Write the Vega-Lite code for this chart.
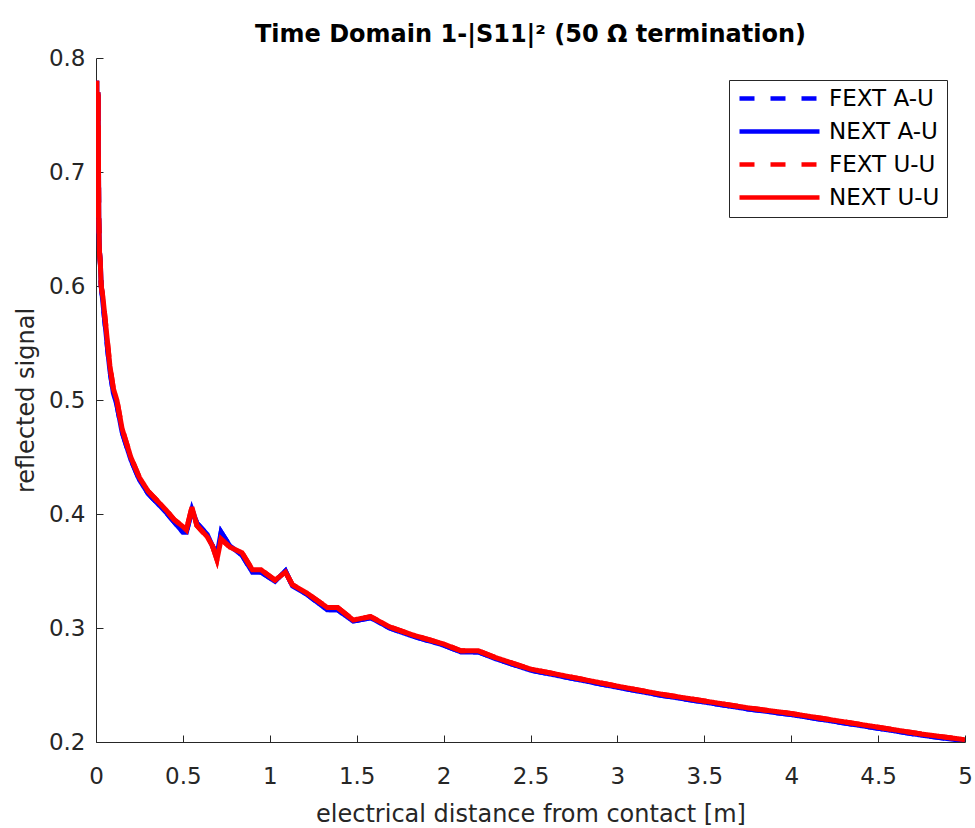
{
  "$schema": "https://vega.github.io/schema/vega-lite/v6.json",
  "width": 869,
  "height": 684,
  "autosize": {"type": "none"},
  "padding": {"left": 96, "top": 58, "right": 10, "bottom": 86},
  "background": "white",
  "title": {"text": "Time Domain 1-|S11|² (50 Ω termination)", "font": "DejaVu Sans", "fontSize": 24, "fontWeight": "bold", "color": "#000000", "anchor": "middle", "offset": 0},
  "config": {
    "view": {"stroke": null},
    "axis": {"grid": false, "domainColor": "#262626", "tickColor": "#262626", "labelColor": "#262626", "titleColor": "#262626", "labelFont": "DejaVu Sans", "titleFont": "DejaVu Sans", "labelFontSize": 23, "titleFontSize": 24, "titleFontWeight": "normal", "tickSize": -7, "domainWidth": 1, "labelFlush": false},
    "legend": {"orient": "none", "legendX": 633, "legendY": 22, "padding": 7, "labelFont": "DejaVu Sans", "labelFontSize": 23, "labelColor": "#000000", "symbolType": "M-1,0H9", "symbolSize": 256, "symbolStrokeWidth": 4.5, "labelOffset": 70, "rowPadding": 9, "strokeColor": "#262626", "fillColor": "white"}
  },
  "data": {"values": [
    {"s":"FEXT A-U","x":0,"y":0.66},{"s":"FEXT A-U","x":0.004,"y":0.78},{"s":"FEXT A-U","x":0.008,"y":0.70},{"s":"FEXT A-U","x":0.012,"y":0.77},{"s":"FEXT A-U","x":0.016,"y":0.66},{"s":"FEXT A-U","x":0.02,"y":0.63},{"s":"FEXT A-U","x":0.025,"y":0.62},{"s":"FEXT A-U","x":0.03,"y":0.60},{"s":"FEXT A-U","x":0.04,"y":0.585},{"s":"FEXT A-U","x":0.05,"y":0.57},{"s":"FEXT A-U","x":0.06,"y":0.555},{"s":"FEXT A-U","x":0.07,"y":0.54},{"s":"FEXT A-U","x":0.08,"y":0.526},{"s":"FEXT A-U","x":0.1,"y":0.506},{"s":"FEXT A-U","x":0.12,"y":0.496},{"s":"FEXT A-U","x":0.15,"y":0.472},{"s":"FEXT A-U","x":0.2,"y":0.448},{"s":"FEXT A-U","x":0.25,"y":0.43},{"s":"FEXT A-U","x":0.3,"y":0.418},{"s":"FEXT A-U","x":0.35,"y":0.41},{"s":"FEXT A-U","x":0.4,"y":0.402},{"s":"FEXT A-U","x":0.45,"y":0.393},{"s":"FEXT A-U","x":0.5,"y":0.384},{"s":"FEXT A-U","x":0.52,"y":0.384},{"s":"FEXT A-U","x":0.552,"y":0.404},{"s":"FEXT A-U","x":0.58,"y":0.392},{"s":"FEXT A-U","x":0.64,"y":0.382},{"s":"FEXT A-U","x":0.67,"y":0.372},{"s":"FEXT A-U","x":0.696,"y":0.364},{"s":"FEXT A-U","x":0.72,"y":0.384},{"s":"FEXT A-U","x":0.77,"y":0.372},{"s":"FEXT A-U","x":0.84,"y":0.364},{"s":"FEXT A-U","x":0.88,"y":0.354},{"s":"FEXT A-U","x":0.9,"y":0.349},{"s":"FEXT A-U","x":0.95,"y":0.349},{"s":"FEXT A-U","x":1.03,"y":0.341},{"s":"FEXT A-U","x":1.09,"y":0.350},{"s":"FEXT A-U","x":1.13,"y":0.337},{"s":"FEXT A-U","x":1.21,"y":0.330},{"s":"FEXT A-U","x":1.33,"y":0.316},{"s":"FEXT A-U","x":1.39,"y":0.316},{"s":"FEXT A-U","x":1.48,"y":0.306},{"s":"FEXT A-U","x":1.58,"y":0.309},{"s":"FEXT A-U","x":1.69,"y":0.300},{"s":"FEXT A-U","x":1.82,"y":0.293},{"s":"FEXT A-U","x":2.0,"y":0.285},{"s":"FEXT A-U","x":2.1,"y":0.279},{"s":"FEXT A-U","x":2.2,"y":0.279},{"s":"FEXT A-U","x":2.3,"y":0.273},{"s":"FEXT A-U","x":2.5,"y":0.263},{"s":"FEXT A-U","x":2.7,"y":0.257},{"s":"FEXT A-U","x":3.0,"y":0.248},{"s":"FEXT A-U","x":3.25,"y":0.241},{"s":"FEXT A-U","x":3.5,"y":0.235},{"s":"FEXT A-U","x":3.75,"y":0.229},{"s":"FEXT A-U","x":4.0,"y":0.224},{"s":"FEXT A-U","x":4.25,"y":0.218},{"s":"FEXT A-U","x":4.5,"y":0.212},{"s":"FEXT A-U","x":4.75,"y":0.206},{"s":"FEXT A-U","x":5.0,"y":0.201},
    {"s":"NEXT A-U","x":0,"y":0.66},{"s":"NEXT A-U","x":0.004,"y":0.78},{"s":"NEXT A-U","x":0.008,"y":0.70},{"s":"NEXT A-U","x":0.012,"y":0.77},{"s":"NEXT A-U","x":0.016,"y":0.66},{"s":"NEXT A-U","x":0.02,"y":0.63},{"s":"NEXT A-U","x":0.025,"y":0.62},{"s":"NEXT A-U","x":0.03,"y":0.60},{"s":"NEXT A-U","x":0.04,"y":0.585},{"s":"NEXT A-U","x":0.05,"y":0.57},{"s":"NEXT A-U","x":0.06,"y":0.555},{"s":"NEXT A-U","x":0.07,"y":0.54},{"s":"NEXT A-U","x":0.08,"y":0.526},{"s":"NEXT A-U","x":0.1,"y":0.506},{"s":"NEXT A-U","x":0.12,"y":0.496},{"s":"NEXT A-U","x":0.15,"y":0.472},{"s":"NEXT A-U","x":0.2,"y":0.448},{"s":"NEXT A-U","x":0.25,"y":0.43},{"s":"NEXT A-U","x":0.3,"y":0.418},{"s":"NEXT A-U","x":0.35,"y":0.41},{"s":"NEXT A-U","x":0.4,"y":0.402},{"s":"NEXT A-U","x":0.45,"y":0.393},{"s":"NEXT A-U","x":0.5,"y":0.384},{"s":"NEXT A-U","x":0.52,"y":0.384},{"s":"NEXT A-U","x":0.552,"y":0.404},{"s":"NEXT A-U","x":0.58,"y":0.392},{"s":"NEXT A-U","x":0.64,"y":0.382},{"s":"NEXT A-U","x":0.67,"y":0.372},{"s":"NEXT A-U","x":0.696,"y":0.364},{"s":"NEXT A-U","x":0.72,"y":0.384},{"s":"NEXT A-U","x":0.77,"y":0.372},{"s":"NEXT A-U","x":0.84,"y":0.364},{"s":"NEXT A-U","x":0.88,"y":0.354},{"s":"NEXT A-U","x":0.9,"y":0.349},{"s":"NEXT A-U","x":0.95,"y":0.349},{"s":"NEXT A-U","x":1.03,"y":0.341},{"s":"NEXT A-U","x":1.09,"y":0.350},{"s":"NEXT A-U","x":1.13,"y":0.337},{"s":"NEXT A-U","x":1.21,"y":0.330},{"s":"NEXT A-U","x":1.33,"y":0.316},{"s":"NEXT A-U","x":1.39,"y":0.316},{"s":"NEXT A-U","x":1.48,"y":0.306},{"s":"NEXT A-U","x":1.58,"y":0.309},{"s":"NEXT A-U","x":1.69,"y":0.300},{"s":"NEXT A-U","x":1.82,"y":0.293},{"s":"NEXT A-U","x":2.0,"y":0.285},{"s":"NEXT A-U","x":2.1,"y":0.279},{"s":"NEXT A-U","x":2.2,"y":0.279},{"s":"NEXT A-U","x":2.3,"y":0.273},{"s":"NEXT A-U","x":2.5,"y":0.263},{"s":"NEXT A-U","x":2.7,"y":0.257},{"s":"NEXT A-U","x":3.0,"y":0.248},{"s":"NEXT A-U","x":3.25,"y":0.241},{"s":"NEXT A-U","x":3.5,"y":0.235},{"s":"NEXT A-U","x":3.75,"y":0.229},{"s":"NEXT A-U","x":4.0,"y":0.224},{"s":"NEXT A-U","x":4.25,"y":0.218},{"s":"NEXT A-U","x":4.5,"y":0.212},{"s":"NEXT A-U","x":4.75,"y":0.206},{"s":"NEXT A-U","x":5.0,"y":0.201},
    {"s":"FEXT U-U","x":0,"y":0.66},{"s":"FEXT U-U","x":0.004,"y":0.78},{"s":"FEXT U-U","x":0.008,"y":0.70},{"s":"FEXT U-U","x":0.012,"y":0.77},{"s":"FEXT U-U","x":0.016,"y":0.66},{"s":"FEXT U-U","x":0.02,"y":0.63},{"s":"FEXT U-U","x":0.025,"y":0.62},{"s":"FEXT U-U","x":0.03,"y":0.60},{"s":"FEXT U-U","x":0.04,"y":0.59},{"s":"FEXT U-U","x":0.05,"y":0.575},{"s":"FEXT U-U","x":0.06,"y":0.56},{"s":"FEXT U-U","x":0.07,"y":0.545},{"s":"FEXT U-U","x":0.08,"y":0.53},{"s":"FEXT U-U","x":0.1,"y":0.51},{"s":"FEXT U-U","x":0.12,"y":0.50},{"s":"FEXT U-U","x":0.15,"y":0.475},{"s":"FEXT U-U","x":0.2,"y":0.45},{"s":"FEXT U-U","x":0.25,"y":0.432},{"s":"FEXT U-U","x":0.3,"y":0.42},{"s":"FEXT U-U","x":0.35,"y":0.412},{"s":"FEXT U-U","x":0.4,"y":0.404},{"s":"FEXT U-U","x":0.45,"y":0.395},{"s":"FEXT U-U","x":0.5,"y":0.389},{"s":"FEXT U-U","x":0.52,"y":0.386},{"s":"FEXT U-U","x":0.552,"y":0.406},{"s":"FEXT U-U","x":0.58,"y":0.39},{"s":"FEXT U-U","x":0.64,"y":0.38},{"s":"FEXT U-U","x":0.67,"y":0.372},{"s":"FEXT U-U","x":0.696,"y":0.36},{"s":"FEXT U-U","x":0.72,"y":0.378},{"s":"FEXT U-U","x":0.77,"y":0.371},{"s":"FEXT U-U","x":0.84,"y":0.366},{"s":"FEXT U-U","x":0.88,"y":0.356},{"s":"FEXT U-U","x":0.9,"y":0.351},{"s":"FEXT U-U","x":0.95,"y":0.351},{"s":"FEXT U-U","x":1.03,"y":0.342},{"s":"FEXT U-U","x":1.09,"y":0.349},{"s":"FEXT U-U","x":1.13,"y":0.338},{"s":"FEXT U-U","x":1.21,"y":0.331},{"s":"FEXT U-U","x":1.33,"y":0.318},{"s":"FEXT U-U","x":1.39,"y":0.318},{"s":"FEXT U-U","x":1.48,"y":0.307},{"s":"FEXT U-U","x":1.58,"y":0.31},{"s":"FEXT U-U","x":1.69,"y":0.301},{"s":"FEXT U-U","x":1.82,"y":0.294},{"s":"FEXT U-U","x":2.0,"y":0.286},{"s":"FEXT U-U","x":2.1,"y":0.28},{"s":"FEXT U-U","x":2.2,"y":0.28},{"s":"FEXT U-U","x":2.3,"y":0.274},{"s":"FEXT U-U","x":2.5,"y":0.264},{"s":"FEXT U-U","x":2.7,"y":0.258},{"s":"FEXT U-U","x":3.0,"y":0.249},{"s":"FEXT U-U","x":3.25,"y":0.242},{"s":"FEXT U-U","x":3.5,"y":0.236},{"s":"FEXT U-U","x":3.75,"y":0.23},{"s":"FEXT U-U","x":4.0,"y":0.225},{"s":"FEXT U-U","x":4.25,"y":0.219},{"s":"FEXT U-U","x":4.5,"y":0.213},{"s":"FEXT U-U","x":4.75,"y":0.207},{"s":"FEXT U-U","x":5.0,"y":0.202},
    {"s":"NEXT U-U","x":0,"y":0.66},{"s":"NEXT U-U","x":0.004,"y":0.78},{"s":"NEXT U-U","x":0.008,"y":0.70},{"s":"NEXT U-U","x":0.012,"y":0.77},{"s":"NEXT U-U","x":0.016,"y":0.66},{"s":"NEXT U-U","x":0.02,"y":0.63},{"s":"NEXT U-U","x":0.025,"y":0.62},{"s":"NEXT U-U","x":0.03,"y":0.60},{"s":"NEXT U-U","x":0.04,"y":0.59},{"s":"NEXT U-U","x":0.05,"y":0.575},{"s":"NEXT U-U","x":0.06,"y":0.56},{"s":"NEXT U-U","x":0.07,"y":0.545},{"s":"NEXT U-U","x":0.08,"y":0.53},{"s":"NEXT U-U","x":0.1,"y":0.51},{"s":"NEXT U-U","x":0.12,"y":0.50},{"s":"NEXT U-U","x":0.15,"y":0.475},{"s":"NEXT U-U","x":0.2,"y":0.45},{"s":"NEXT U-U","x":0.25,"y":0.432},{"s":"NEXT U-U","x":0.3,"y":0.42},{"s":"NEXT U-U","x":0.35,"y":0.412},{"s":"NEXT U-U","x":0.4,"y":0.404},{"s":"NEXT U-U","x":0.45,"y":0.395},{"s":"NEXT U-U","x":0.5,"y":0.389},{"s":"NEXT U-U","x":0.52,"y":0.386},{"s":"NEXT U-U","x":0.552,"y":0.406},{"s":"NEXT U-U","x":0.58,"y":0.39},{"s":"NEXT U-U","x":0.64,"y":0.38},{"s":"NEXT U-U","x":0.67,"y":0.372},{"s":"NEXT U-U","x":0.696,"y":0.36},{"s":"NEXT U-U","x":0.72,"y":0.378},{"s":"NEXT U-U","x":0.77,"y":0.371},{"s":"NEXT U-U","x":0.84,"y":0.366},{"s":"NEXT U-U","x":0.88,"y":0.356},{"s":"NEXT U-U","x":0.9,"y":0.351},{"s":"NEXT U-U","x":0.95,"y":0.351},{"s":"NEXT U-U","x":1.03,"y":0.342},{"s":"NEXT U-U","x":1.09,"y":0.349},{"s":"NEXT U-U","x":1.13,"y":0.338},{"s":"NEXT U-U","x":1.21,"y":0.331},{"s":"NEXT U-U","x":1.33,"y":0.318},{"s":"NEXT U-U","x":1.39,"y":0.318},{"s":"NEXT U-U","x":1.48,"y":0.307},{"s":"NEXT U-U","x":1.58,"y":0.31},{"s":"NEXT U-U","x":1.69,"y":0.301},{"s":"NEXT U-U","x":1.82,"y":0.294},{"s":"NEXT U-U","x":2.0,"y":0.286},{"s":"NEXT U-U","x":2.1,"y":0.28},{"s":"NEXT U-U","x":2.2,"y":0.28},{"s":"NEXT U-U","x":2.3,"y":0.274},{"s":"NEXT U-U","x":2.5,"y":0.264},{"s":"NEXT U-U","x":2.7,"y":0.258},{"s":"NEXT U-U","x":3.0,"y":0.249},{"s":"NEXT U-U","x":3.25,"y":0.242},{"s":"NEXT U-U","x":3.5,"y":0.236},{"s":"NEXT U-U","x":3.75,"y":0.23},{"s":"NEXT U-U","x":4.0,"y":0.225},{"s":"NEXT U-U","x":4.25,"y":0.219},{"s":"NEXT U-U","x":4.5,"y":0.213},{"s":"NEXT U-U","x":4.75,"y":0.207},{"s":"NEXT U-U","x":5.0,"y":0.202}
  ]},
  "mark": {"type": "line", "strokeWidth": 5, "strokeCap": "butt", "strokeJoin": "miter", "clip": true},
  "encoding": {
    "x": {"field": "x", "type": "quantitative", "scale": {"domain": [0, 5], "nice": false}, "axis": {"values": [0,0.5,1,1.5,2,2.5,3,3.5,4,4.5,5], "format": "~g", "title": "electrical distance from contact [m]", "labelPadding": 30, "titlePadding": 14}},
    "y": {"field": "y", "type": "quantitative", "scale": {"domain": [0.2, 0.8], "nice": false, "zero": false}, "axis": {"values": [0.2,0.3,0.4,0.5,0.6,0.7,0.8], "format": "~g", "title": "reflected signal", "labelPadding": 18, "titlePadding": 10}},
    "color": {"field": "s", "type": "nominal", "sort": ["FEXT A-U","NEXT A-U","FEXT U-U","NEXT U-U"], "scale": {"domain": ["FEXT A-U","NEXT A-U","FEXT U-U","NEXT U-U"], "range": ["#0000ff","#0000ff","#ff0000","#ff0000"]}, "legend": {"title": null}},
    "strokeDash": {"field": "s", "type": "nominal", "sort": ["FEXT A-U","NEXT A-U","FEXT U-U","NEXT U-U"], "scale": {"domain": ["FEXT A-U","NEXT A-U","FEXT U-U","NEXT U-U"], "range": [[15,16],[1,0],[15,16],[1,0]]}, "legend": {"title": null}},
    "order": {"field": "x", "type": "quantitative"}
  }
}
